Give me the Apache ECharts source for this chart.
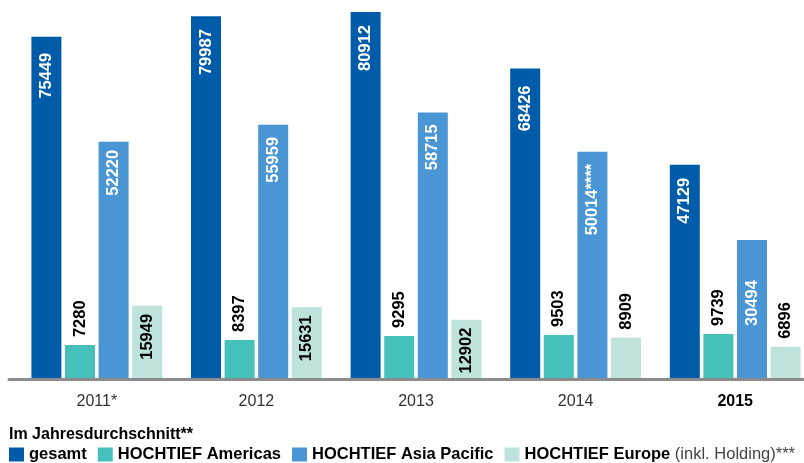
<!DOCTYPE html>
<html>
<head>
<meta charset="utf-8">
<script src="https://cdn.jsdelivr.net/npm/echarts@6/dist/echarts.min.js"></script>
<style>
html,body{margin:0;padding:0;background:#fff;}
#chart{width:804px;height:463px;}
</style>
</head>
<body>
<div id="chart"></div>
<script>
// ---- data ----
var categories = ['2011*', '2012', '2013', '2014', '2015'];
var seriesNames = ['gesamt', 'HOCHTIEF Americas', 'HOCHTIEF Asia Pacific', 'HOCHTIEF Europe'];
var gesamt = [75449, 79987, 80912, 68426, 47129];
var americas = [7280, 8397, 9295, 9503, 9739];
var asiaPacific = [52220, 55959, 58715, 50014, 30494];
var europe = [15949, 15631, 12902, 8909, 6896];
var asiaNotes = ['', '', '', '****', ''];
var legendTitle = 'Im Jahresdurchschnitt**';

// ---- styles ----
var colors = ['#005CA9', '#46C0BB', '#4A95D4', '#BEE3DC'];
var FONT = '"Liberation Sans", Arial, Helvetica, sans-serif';
var labelBase = { show: true, rotate: 90, verticalAlign: 'middle', fontFamily: FONT, fontWeight: 'bold', fontSize: 16.5 };

function insideLabel(color, dist) {
  return Object.assign({}, labelBase, { position: 'insideTop', align: 'right', distance: dist, color: color });
}
function outsideLabel(dist) {
  return Object.assign({}, labelBase, { position: 'top', align: 'left', distance: dist, color: '#000' });
}

// label distance tweaks (style only)
var gesamtDist = [16, 13, 13, 17, 13];
var asiaDist = [8, 12, 12, 12, 40];
var europeInside = [true, true, true, false, false];

function buildData(values, labelFn) {
  return values.map(function (v, i) { return { value: v, label: labelFn(i) }; });
}

var chart = echarts.init(document.getElementById('chart'), null, { renderer: 'canvas' });

var option = {
  animation: false,
  backgroundColor: '#fff',
  color: colors,
  title: {
    text: legendTitle,
    left: 9, top: 427, padding: 0,
    textStyle: { fontFamily: FONT, fontWeight: 'bold', fontSize: 16, color: '#000' }
  },
  legend: {
    left: 9, top: 446, padding: 0,
    icon: 'rect', itemWidth: 15, itemHeight: 14, itemGap: 11,
    data: seriesNames,
    textStyle: {
      fontFamily: FONT, fontWeight: 'bold', fontSize: 16.5, color: '#000',
      rich: { n: { fontFamily: FONT, fontWeight: 'normal', fontSize: 16.5, color: '#444' } }
    },
    formatter: function (name) {
      return name === 'HOCHTIEF Europe' ? name + ' {n|(inkl. Holding)***}' : name;
    }
  },
  grid: [
    { left: 17, width: 798, top: 12, bottom: 85, containLabel: false, outerBoundsMode: 'none' },
    { left: 9, right: 0, top: 12, bottom: 84, containLabel: false, outerBoundsMode: 'none' }
  ],
  xAxis: [
    {
      type: 'category', gridIndex: 0, data: categories,
      axisLine: { show: false }, axisTick: { show: false },
      axisLabel: {
        margin: 16, fontFamily: FONT, fontSize: 16, color: '#333',
        formatter: function (v) { return v === '2015' ? '{b|' + v + '}' : v; },
        rich: { b: { fontFamily: FONT, fontSize: 16, fontWeight: 'bold', color: '#000' } }
      }
    },
    {
      type: 'value', gridIndex: 1, min: 0, max: 1,
      axisLine: { show: true, lineStyle: { color: '#8C8C8C', width: 3 } },
      axisTick: { show: false }, axisLabel: { show: false }, splitLine: { show: false }
    }
  ],
  yAxis: [
    { type: 'value', gridIndex: 0, min: 0, max: 'dataMax', show: false },
    { type: 'value', gridIndex: 1, min: 0, max: 1, show: false }
  ],
  series: [
    {
      name: seriesNames[0], type: 'bar', barWidth: 30, barGap: '12%',
      data: buildData(gesamt, function (i) { return insideLabel('#fff', gesamtDist[i]); })
    },
    {
      name: seriesNames[1], type: 'bar', barWidth: 30, barGap: '12%',
      data: buildData(americas, function (i) { return outsideLabel(8); })
    },
    {
      name: seriesNames[2], type: 'bar', barWidth: 30, barGap: '12%',
      data: buildData(asiaPacific, function (i) {
        var l = insideLabel('#fff', asiaDist[i]);
        l.formatter = function (p) { return p.value + asiaNotes[p.dataIndex]; };
        return l;
      })
    },
    {
      name: seriesNames[3], type: 'bar', barWidth: 30, barGap: '12%',
      data: buildData(europe, function (i) { return europeInside[i] ? insideLabel('#000', 8) : outsideLabel(8); })
    }
  ]
};
chart.setOption(option);
</script>
</body>
</html>
